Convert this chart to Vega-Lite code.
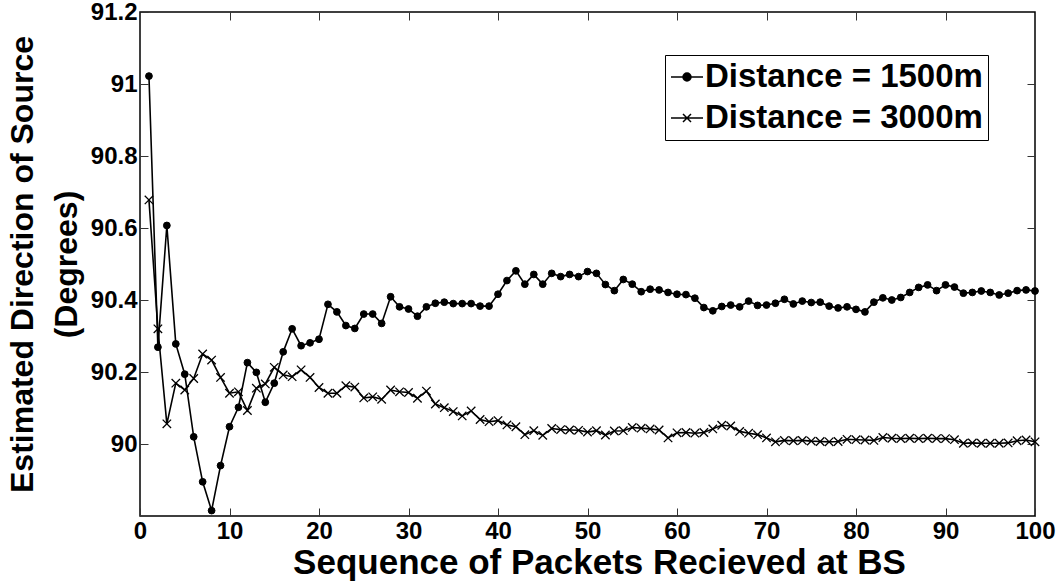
{
  "$schema": "https://vega.github.io/schema/vega-lite/v6.json",
  "width": 895,
  "height": 504,
  "autosize": "none",
  "padding": {"left": 140, "top": 12, "right": 26, "bottom": 67},
  "background": "white",
  "config": {
    "view": {"stroke": "black", "strokeWidth": 1.5},
    "font": "Liberation Sans",
    "axis": {
      "grid": false,
      "labelFont": "Liberation Sans",
      "labelFontWeight": "bold",
      "labelFontSize": 24,
      "labelColor": "black",
      "titleFont": "Liberation Sans",
      "titleFontWeight": "bold",
      "titleFontSize": 33,
      "titleColor": "black",
      "domain": false,
      "tickColor": "#333333",
      "tickSize": -8,
      "tickWidth": 1,
      "labelPadding": 11,
      "labelFlush": false,
      "labelOverlap": false,
      "labelBound": false
    }
  },
  "datasets": {
    "d1500": [
      {"x":1,"v":91.022},{"x":2,"v":90.269},{"x":3,"v":90.607},{"x":4,"v":90.278},{"x":5,"v":90.194},
      {"x":6,"v":90.020},{"x":7,"v":89.895},{"x":8,"v":89.815},{"x":9,"v":89.940},{"x":10,"v":90.048},
      {"x":11,"v":90.102},{"x":12,"v":90.226},{"x":13,"v":90.199},{"x":14,"v":90.116},{"x":15,"v":90.169},
      {"x":16,"v":90.256},{"x":17,"v":90.320},{"x":18,"v":90.273},{"x":19,"v":90.281},{"x":20,"v":90.291},
      {"x":21,"v":90.388},{"x":22,"v":90.367},{"x":23,"v":90.329},{"x":24,"v":90.321},{"x":25,"v":90.361},
      {"x":26,"v":90.361},{"x":27,"v":90.335},{"x":28,"v":90.409},{"x":29,"v":90.381},{"x":30,"v":90.375},
      {"x":31,"v":90.355},{"x":32,"v":90.381},{"x":33,"v":90.391},{"x":34,"v":90.394},{"x":35,"v":90.390},
      {"x":36,"v":90.390},{"x":37,"v":90.390},{"x":38,"v":90.383},{"x":39,"v":90.383},{"x":40,"v":90.416},
      {"x":41,"v":90.454},{"x":42,"v":90.481},{"x":43,"v":90.444},{"x":44,"v":90.471},{"x":45,"v":90.444},
      {"x":46,"v":90.474},{"x":47,"v":90.465},{"x":48,"v":90.471},{"x":49,"v":90.465},{"x":50,"v":90.479},
      {"x":51,"v":90.474},{"x":52,"v":90.443},{"x":53,"v":90.426},{"x":54,"v":90.457},{"x":55,"v":90.444},
      {"x":56,"v":90.423},{"x":57,"v":90.430},{"x":58,"v":90.428},{"x":59,"v":90.421},{"x":60,"v":90.416},
      {"x":61,"v":90.415},{"x":62,"v":90.405},{"x":63,"v":90.379},{"x":64,"v":90.370},{"x":65,"v":90.382},
      {"x":66,"v":90.386},{"x":67,"v":90.381},{"x":68,"v":90.397},{"x":69,"v":90.385},{"x":70,"v":90.386},
      {"x":71,"v":90.391},{"x":72,"v":90.402},{"x":73,"v":90.389},{"x":74,"v":90.397},{"x":75,"v":90.393},
      {"x":76,"v":90.394},{"x":77,"v":90.383},{"x":78,"v":90.378},{"x":79,"v":90.381},{"x":80,"v":90.374},
      {"x":81,"v":90.367},{"x":82,"v":90.394},{"x":83,"v":90.406},{"x":84,"v":90.400},{"x":85,"v":90.407},
      {"x":86,"v":90.421},{"x":87,"v":90.435},{"x":88,"v":90.442},{"x":89,"v":90.426},{"x":90,"v":90.442},
      {"x":91,"v":90.436},{"x":92,"v":90.419},{"x":93,"v":90.421},{"x":94,"v":90.425},{"x":95,"v":90.421},
      {"x":96,"v":90.414},{"x":97,"v":90.419},{"x":98,"v":90.426},{"x":99,"v":90.428},{"x":100,"v":90.425}
    ],
    "d3000": [
      {"x":1,"v":90.678},{"x":2,"v":90.320},{"x":3,"v":90.056},{"x":4,"v":90.169},{"x":5,"v":90.150},
      {"x":6,"v":90.182},{"x":7,"v":90.250},{"x":8,"v":90.233},{"x":9,"v":90.185},{"x":10,"v":90.141},
      {"x":11,"v":90.145},{"x":12,"v":90.093},{"x":13,"v":90.155},{"x":14,"v":90.167},{"x":15,"v":90.213},
      {"x":16,"v":90.192},{"x":17,"v":90.187},{"x":18,"v":90.206},{"x":19,"v":90.185},{"x":20,"v":90.157},
      {"x":21,"v":90.141},{"x":22,"v":90.141},{"x":23,"v":90.162},{"x":24,"v":90.158},{"x":25,"v":90.128},
      {"x":26,"v":90.131},{"x":27,"v":90.124},{"x":28,"v":90.150},{"x":29,"v":90.145},{"x":30,"v":90.143},
      {"x":31,"v":90.127},{"x":32,"v":90.147},{"x":33,"v":90.111},{"x":34,"v":90.101},{"x":35,"v":90.090},
      {"x":36,"v":90.078},{"x":37,"v":90.092},{"x":38,"v":90.068},{"x":39,"v":90.062},{"x":40,"v":90.065},
      {"x":41,"v":90.053},{"x":42,"v":90.048},{"x":43,"v":90.026},{"x":44,"v":90.037},{"x":45,"v":90.024},
      {"x":46,"v":90.043},{"x":47,"v":90.040},{"x":48,"v":90.039},{"x":49,"v":90.038},{"x":50,"v":90.033},
      {"x":51,"v":90.037},{"x":52,"v":90.025},{"x":53,"v":90.036},{"x":54,"v":90.037},{"x":55,"v":90.046},
      {"x":56,"v":90.044},{"x":57,"v":90.042},{"x":58,"v":90.039},{"x":59,"v":90.017},{"x":60,"v":90.031},
      {"x":61,"v":90.032},{"x":62,"v":90.030},{"x":63,"v":90.032},{"x":64,"v":90.042},{"x":65,"v":90.052},
      {"x":66,"v":90.050},{"x":67,"v":90.035},{"x":68,"v":90.030},{"x":69,"v":90.026},{"x":70,"v":90.017},
      {"x":71,"v":90.006},{"x":72,"v":90.010},{"x":73,"v":90.009},{"x":74,"v":90.010},{"x":75,"v":90.008},
      {"x":76,"v":90.007},{"x":77,"v":90.006},{"x":78,"v":90.007},{"x":79,"v":90.013},{"x":80,"v":90.012},
      {"x":81,"v":90.011},{"x":82,"v":90.010},{"x":83,"v":90.018},{"x":84,"v":90.016},{"x":85,"v":90.015},
      {"x":86,"v":90.016},{"x":87,"v":90.015},{"x":88,"v":90.016},{"x":89,"v":90.015},{"x":90,"v":90.015},
      {"x":91,"v":90.012},{"x":92,"v":90.002},{"x":93,"v":90.003},{"x":94,"v":90.002},{"x":95,"v":90.002},
      {"x":96,"v":90.002},{"x":97,"v":90.003},{"x":98,"v":90.009},{"x":99,"v":90.011},{"x":100,"v":90.006}
    ]
  },
  "layer": [
    {
      "data": {"name": "d1500"},
      "mark": {"type": "line", "color": "black", "strokeWidth": 1.6},
      "encoding": {
        "x": {"field": "x", "type": "quantitative",
          "scale": {"domain": [0, 100], "nice": false, "zero": false},
          "axis": {"orient": "bottom", "values": [0,10,20,30,40,50,60,70,80,90,100],
            "title": "Sequence of Packets Recieved at BS", "titleFontSize": 35, "titlePadding": 2, "titleX": 459}},
        "y": {"field": "v", "type": "quantitative",
          "scale": {"domain": [89.8, 91.2], "nice": false, "zero": false},
          "axis": {"orient": "left", "values": [90,90.2,90.4,90.6,90.8,91,91.2], "format": "~g",
            "title": ["Estimated Direction of Source", "(Degrees)"], "titleFontSize": 32, "titleLineHeight": 44, "titlePadding": 7}}
      }
    },
    {
      "data": {"name": "d3000"},
      "mark": {"type": "line", "color": "black", "strokeWidth": 1.6},
      "encoding": {
        "x": {"field": "x", "type": "quantitative", "axis": null},
        "y": {"field": "v", "type": "quantitative", "axis": null}
      }
    },
    {
      "data": {"name": "d1500"},
      "mark": {"type": "point", "shape": "circle", "filled": true, "fill": "black", "stroke": "black", "strokeWidth": 1, "size": 46, "opacity": 1},
      "encoding": {
        "x": {"field": "x", "type": "quantitative",
          "axis": {"orient": "top", "labels": false, "title": null, "values": [10,20,30,40,50,60,70,80,90]}},
        "y": {"field": "v", "type": "quantitative",
          "axis": {"orient": "right", "labels": false, "title": null, "values": [90,90.2,90.4,90.6,90.8,91]}}
      }
    },
    {
      "data": {"name": "d3000"},
      "mark": {"type": "point", "shape": "M-1.3,-1.3L1.3,1.3M-1.3,1.3L1.3,-1.3", "filled": false, "stroke": "black", "strokeWidth": 1.3, "size": 42, "opacity": 1},
      "encoding": {
        "x": {"field": "x", "type": "quantitative", "axis": null},
        "y": {"field": "v", "type": "quantitative", "axis": null}
      }
    },
    {
      "data": {"name": "d1500"},
      "transform": [
        {"filter": "datum.x < 0"},
        {"calculate": "'Distance = 1500m'", "as": "series"}
      ],
      "mark": {"type": "point", "filled": false, "color": "black", "strokeWidth": 1.5, "size": 1024, "opacity": 1},
      "encoding": {
        "x": {"field": "x", "type": "quantitative", "axis": null},
        "y": {"field": "v", "type": "quantitative", "axis": null},
        "shape": {"field": "series", "type": "nominal",
          "scale": {"domain": ["Distance = 1500m", "Distance = 3000m"],
            "range": ["M-1,0L1,0M-0.25,0A0.25,0.25,0,1,0,0.25,0A0.25,0.25,0,1,0,-0.25,0M-0.18,0A0.18,0.18,0,1,0,0.18,0A0.18,0.18,0,1,0,-0.18,0M-0.11,0A0.11,0.11,0,1,0,0.11,0A0.11,0.11,0,1,0,-0.11,0M-0.05,0A0.05,0.05,0,1,0,0.05,0A0.05,0.05,0,1,0,-0.05,0", "M-1,0L1,0M-0.25,-0.25L0.25,0.25M-0.25,0.25L0.25,-0.25"]},
          "legend": {
            "orient": "none", "legendX": 525, "legendY": 43, "title": null,
            "strokeColor": "black", "fillColor": "white", "padding": 5,
            "labelFont": "Liberation Sans", "labelFontWeight": "bold", "labelFontSize": 33,
            "labelColor": "black", "labelLimit": 500, "labelOffset": 1,
            "symbolSize": 1024, "symbolStrokeWidth": 1.5, "symbolFillColor": "black",
            "symbolStrokeColor": "black", "symbolOpacity": 1, "rowPadding": 7
          }}
      }
    }
  ],
  "resolve": {"axis": {"x": "independent", "y": "independent"}}
}
